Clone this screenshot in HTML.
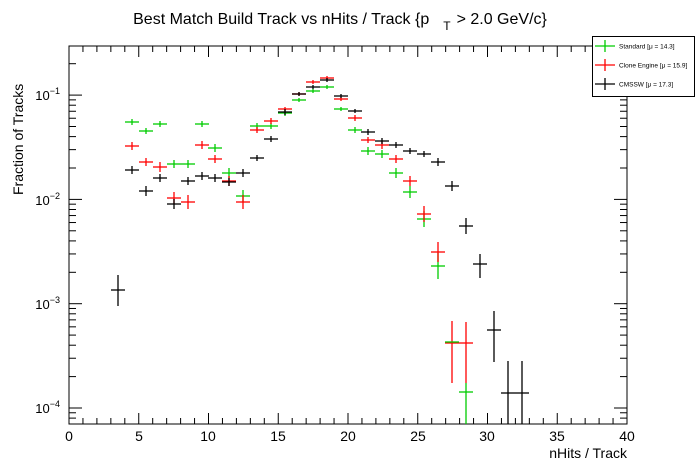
<!DOCTYPE html>
<html><head><meta charset="utf-8"><style>
body{margin:0;background:#fff;}
svg{display:block;font-family:"Liberation Sans",sans-serif;}
</style></head><body>
<svg id="s" width="696" height="472" viewBox="0 0 696 472" xmlns="http://www.w3.org/2000/svg">
<rect width="696" height="472" fill="#fff"/>
<text x="340" y="24" font-size="16" text-anchor="middle">Best Match Build Track vs nHits / Track {p<tspan font-size="12" dx="14" dy="6">T</tspan><tspan dx="6" dy="-6">&gt; 2.0 GeV/c}</tspan></text>
<rect x="69" y="46" width="558" height="378" fill="none" stroke="#000" stroke-width="1"/>
<g id="ax" stroke="#000" stroke-width="1"></g>
<g font-size="14" text-anchor="middle">
<text x="69" y="441">0</text><text x="139" y="441">5</text><text x="208" y="441">10</text><text x="278" y="441">15</text><text x="348" y="441">20</text><text x="418" y="441">25</text><text x="487" y="441">30</text><text x="557" y="441">35</text><text x="627" y="441">40</text>
</g>
<text x="627" y="458" font-size="14" text-anchor="end">nHits / Track</text>
<text transform="translate(23,195) rotate(-90)" font-size="14">Fraction of Tracks</text>
<g font-size="13" text-anchor="end">
<text x="60" y="100">10<tspan font-size="9" dy="-6">−1</tspan></text>
<text x="60" y="205">10<tspan font-size="9" dy="-6">−2</tspan></text>
<text x="60" y="309">10<tspan font-size="9" dy="-6">−3</tspan></text>
<text x="60" y="413">10<tspan font-size="9" dy="-6">−4</tspan></text>
</g>
<g id="data" stroke-width="1.3"></g>
<rect x="592.5" y="36.5" width="102" height="60" fill="#fff" stroke="#000"/>
<g stroke-width="1.3">
<line x1="595" y1="46" x2="615" y2="46" stroke="#00cc00"/><line x1="605" y1="40" x2="605" y2="52" stroke="#00cc00"/>
<line x1="595" y1="65" x2="615" y2="65" stroke="#ff0000"/><line x1="605" y1="59" x2="605" y2="71" stroke="#ff0000"/>
<line x1="595" y1="84" x2="615" y2="84" stroke="#000"/><line x1="605" y1="78" x2="605" y2="90" stroke="#000"/>
</g>
<g font-size="6.5">
<text x="619" y="48.5">Standard  [μ = 14.3]</text>
<text x="619" y="67.5">Clone Engine  [μ = 15.9]</text>
<text x="619" y="86.5">CMSSW  [μ = 17.3]</text>
</g>
</svg>
<script>
var NS="http://www.w3.org/2000/svg";
function L(g,x1,y1,x2,y2,c){var l=document.createElementNS(NS,"line");l.setAttribute("x1",x1);l.setAttribute("y1",y1);l.setAttribute("x2",x2);l.setAttribute("y2",y2);l.setAttribute("stroke",c||"#000");g.appendChild(l);}
var ax=document.getElementById("ax");
for(var i=0;i<=40;i++){var x=69+i*13.95;var h=(i%5==0)?11:6;L(ax,x,424,x,424-h);L(ax,x,46,x,46+h);}
var dec=104.3;
for(var d=-5;d<=0;d++){var base=408-(d+4)*dec;
 for(var m=1;m<10;m++){var y=base-Math.log10(m)*dec;if(y<46||y>424)continue;var h=(m==1)?13:7;L(ax,69,y,69+h,y);L(ax,627,y,627-h,y);}}
var dg=document.getElementById("data");
function S(arr,c){arr.forEach(function(p){var x=p[0],y=p[1];L(dg,x-7,y,x+7,y,c);var a,b;if(p.length==4){a=p[2];b=p[3];}else{a=y-p[2];b=y+p[2];}if(b>a)L(dg,x,a,x,b,c);});}
S([[132,122,3],[146,131,3],[160,124,3],[174,164,4],[188,164,4],[202,124,3],[215,148,4],[229,173,5],[243,196,6],[257,126,3],[271,126,3],[285,113,3],[299,100,2],[313,91,2],[327,87,2],[341,109,2],[355,130,3],[368,151,4],[382,154,4],[396,173,5],[410,192,6],[424,219,8],[438,266,13],[466,392,383,424]],"#00cc00");
S([[132,146,4],[146,162,4],[160,167,5],[174,198,6],[188,202,7],[202,145,4],[215,159,4],[229,181,5],[243,202,7],[257,130,3],[271,121,3],[285,109,2],[299,94,2],[313,82,2],[327,78,2],[341,99,2],[355,118,3],[368,140,3],[382,145,4],[396,159,4],[410,181,5],[424,214,8],[438,252,10],[452,343,321,383],[466,343,322,383]],"#ff0000");
S([[452,342,0]],"#00cc00");
S([[118,290,275,306],[132,170,4],[146,191,5],[160,178,4],[174,204,5],[188,181,4],[202,176,4],[215,178,4],[229,182,4],[243,173,4],[257,158,3],[271,139,3],[285,112,3],[299,94,2],[313,87,2],[327,80,2],[341,96,2],[355,111,2],[368,132,3],[382,141,3],[396,145,3],[410,151,3],[424,154,3],[438,162,4],[452,186,5],[466,226,8],[480,264,254,278],[494,330,311,362],[508,393,361,424],[522,393,361,424]],"#000");
</script>
</body></html>
